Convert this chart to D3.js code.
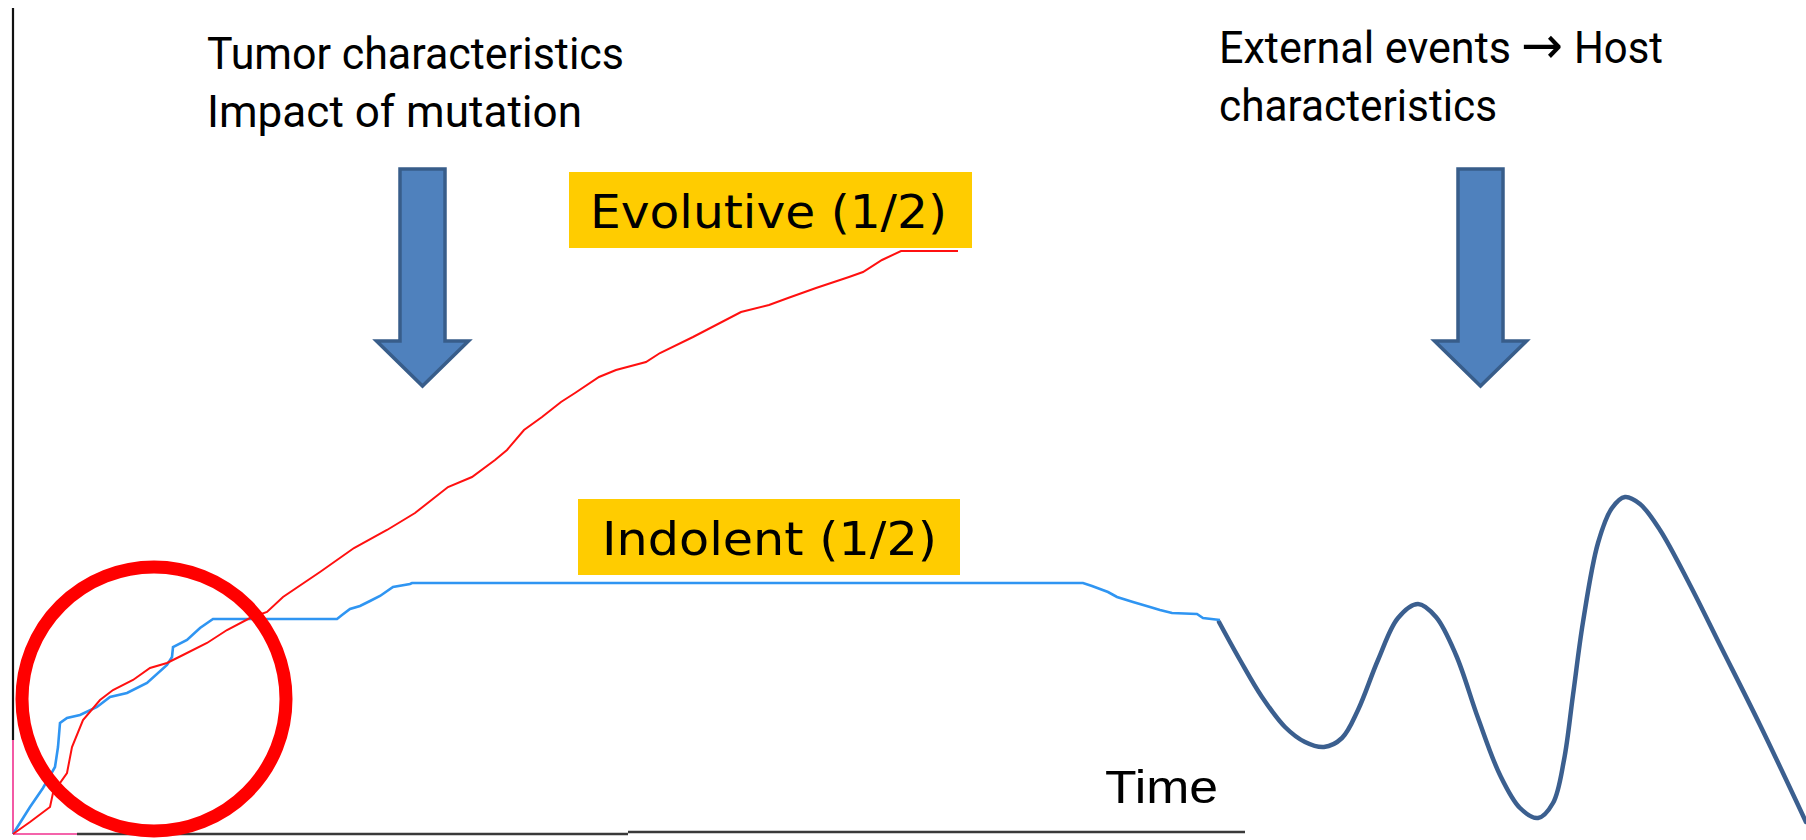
<!DOCTYPE html>
<html>
<head>
<meta charset="utf-8">
<script src="https://cdn.jsdelivr.net/npm/d3@7/dist/d3.min.js"></script>
<style>
  html, body { margin: 0; padding: 0; background: #fff; }
  svg { display: block; }
</style>
</head>
<body>
<div class="chart"></div>
<script>
// Evolutive course, [time, size]
var evolutive = [
  [0, 0], [1.7, 1.2], [3.7, 2.7], [4.0, 4.1], [5.4, 6.1], [5.9, 8.7], [7.0, 11.4],
  [8.7, 13.4], [10.0, 14.4], [12.0, 15.4], [13.7, 16.6], [15.4, 17.1], [17.0, 17.9],
  [19.4, 19.1], [21.4, 20.4], [23.7, 21.6], [25.4, 22.2], [27.0, 23.7], [30.7, 26.2],
  [34.1, 28.6], [37.4, 30.4], [40.2, 32.1], [43.5, 34.7], [45.9, 35.7], [48.2, 37.4],
  [49.4, 38.4], [51.1, 40.4], [52.9, 41.7], [54.8, 43.2], [56.2, 44.1], [58.6, 45.7],
  [60.3, 46.4], [63.3, 47.2], [64.7, 48.1], [68.0, 49.7], [72.8, 52.2], [75.6, 52.9],
  [77.5, 53.6], [80.3, 54.6], [83.6, 55.7], [85.0, 56.2], [86.9, 57.4], [88.8, 58.3],
  [94.5, 58.3]
];

// Indolent course
var indolent = [
  [0, 0], [1.7, 2.7], [3.0, 4.6], [4.2, 6.7], [4.5, 8.7], [4.7, 11.1], [5.4, 11.6],
  [6.7, 11.9], [8.4, 12.7], [9.7, 13.7], [11.4, 14.1], [13.4, 15.1], [15.4, 16.9],
  [15.9, 17.7], [16.0, 18.7], [17.4, 19.4], [18.7, 20.6], [20.0, 21.5], [32.4, 21.5],
  [32.9, 21.9], [33.7, 22.5], [34.7, 22.8], [35.7, 23.3], [36.7, 23.8], [38.0, 24.7],
  [39.7, 25.0], [39.9, 25.1], [107.0, 25.1], [107.9, 24.8], [109.5, 24.2], [110.4, 23.7],
  [112.0, 23.2], [113.7, 22.7], [114.7, 22.4], [115.9, 22.1], [118.4, 22.0], [119.0, 21.6],
  [120.7, 21.4]
];

// Host driven course after the indolent phase
var hostCourse = [
  [120.6, 21.2], [122.7, 17.4], [124.9, 13.7], [127.2, 10.7], [129.2, 9.2], [131.1, 8.7],
  [132.9, 9.6], [134.5, 12.4], [136.5, 17.4], [138.5, 21.6], [140.5, 23.0], [142.3, 21.7],
  [144.3, 17.9], [146.5, 11.6], [148.7, 5.9], [150.7, 2.6], [152.5, 1.6], [154.0, 3.1],
  [155.1, 7.4], [156.0, 13.9], [157.0, 21.2], [158.5, 29.1], [159.9, 32.6], [161.2, 33.7],
  [162.7, 33.0], [164.7, 30.4], [167.7, 24.9], [170.7, 18.9], [174.7, 10.9], [179.3, 1.2]
];

// Texts
var seriesLabels = ['Evolutive (1/2)', 'Indolent (1/2)'];
var tumorNotes = ['Tumor characteristics', 'Impact of mutation'];
var hostNotes = ['External events', '\u2192', 'Host', 'characteristics'];
var axisTitle = 'Time';

// Canvas
var width = 1806, height = 840;

var svg = d3.select('.chart').append('svg')
  .attr('width', width)
  .attr('height', height);

svg.append('rect')
  .attr('width', width)
  .attr('height', height)
  .attr('fill', '#fff');

// Scales
var x = d3.scaleLinear().domain([0, 180]).range([13, 1813]);
var y = d3.scaleLinear().domain([0, 82.6]).range([834, 8]);

// Axes (no ticks, plain lines)
var axes = svg.append('g').attr('class', 'axes');

axes.append('line')
  .attr('x1', x(0)).attr('x2', x(0))
  .attr('y1', y(82.6)).attr('y2', y(9.4))
  .attr('stroke', '#111').attr('stroke-width', 2.2);

axes.append('line')
  .attr('x1', x(0)).attr('x2', x(0))
  .attr('y1', y(9.4)).attr('y2', y(0))
  .attr('stroke', '#f0308f').attr('stroke-width', 1.6);

axes.append('line')
  .attr('x1', x(6.4)).attr('x2', x(61.5))
  .attr('y1', y(0)).attr('y2', y(0))
  .attr('stroke', '#3a3a3a').attr('stroke-width', 2.6);

axes.append('line')
  .attr('x1', x(61.5)).attr('x2', x(123.2))
  .attr('y1', y(0.2)).attr('y2', y(0.2))
  .attr('stroke', '#3a3a3a').attr('stroke-width', 2.6);

axes.append('line')
  .attr('x1', x(0)).attr('x2', x(6.4))
  .attr('y1', y(0)).attr('y2', y(0))
  .attr('stroke', '#f0308f').attr('stroke-width', 1.6);

// Line generators
var line = d3.line()
  .x(function(d) { return x(d[0]); })
  .y(function(d) { return y(d[1]); });

var smooth = d3.line()
  .x(function(d) { return x(d[0]); })
  .y(function(d) { return y(d[1]); })
  .curve(d3.curveCatmullRom.alpha(0.5));

// Series
svg.append('path')
  .datum(hostCourse)
  .attr('d', smooth)
  .attr('fill', 'none')
  .attr('stroke', '#3b5f8f')
  .attr('stroke-width', 4.5)
  .attr('stroke-linecap', 'round');

svg.append('path')
  .datum(indolent)
  .attr('d', line)
  .attr('fill', 'none')
  .attr('stroke', '#2f95f2')
  .attr('stroke-width', 2.6);

svg.append('path')
  .datum(evolutive)
  .attr('d', line)
  .attr('fill', 'none')
  .attr('stroke', '#ff1010')
  .attr('stroke-width', 2);

// Highlight circle on the early phase
svg.append('circle')
  .attr('cx', x(14.1))
  .attr('cy', y(13.5))
  .attr('r', 132)
  .attr('fill', 'none')
  .attr('stroke', '#ff0000')
  .attr('stroke-width', 13);

// Block arrows
function arrowPoints(cx, top, tip) {
  var shaft = 22.5, head = 46, headH = 45;
  return [
    [cx - shaft, top], [cx + shaft, top], [cx + shaft, tip - headH],
    [cx + head, tip - headH], [cx, tip], [cx - head, tip - headH],
    [cx - shaft, tip - headH]
  ].map(function(p) { return p.join(','); }).join(' ');
}

svg.selectAll('.arrow')
  .data([422.5, 1480.5])
  .enter().append('polygon')
  .attr('class', 'arrow')
  .attr('points', function(d) { return arrowPoints(d, 169, 386); })
  .attr('fill', '#4f81bd')
  .attr('stroke', '#385d8a')
  .attr('stroke-width', 3.5)
  .attr('stroke-linejoin', 'miter');

// Notes above the arrows
var noteFont = 'Roboto, "Open Sans", sans-serif';

svg.selectAll('.tumor-note')
  .data(tumorNotes)
  .enter().append('text')
  .attr('class', 'tumor-note')
  .attr('x', 207)
  .attr('y', function(d, i) { return 69 + i * 58; })
  .attr('textLength', function(d, i) { return [417, 375][i]; })
  .attr('lengthAdjust', 'spacingAndGlyphs')
  .style('font-family', noteFont)
  .style('font-size', '44px')
  .attr('fill', '#000')
  .text(function(d) { return d; });

// Host notes: the arrow glyph is set apart in a font that draws it large
var hostPlace = [
  { x: 1219, y: 63, len: 292, font: noteFont, size: 44 },
  { x: 1521, y: 63, len: 42, font: '"DejaVu Sans", sans-serif', size: 52 },
  { x: 1574, y: 63, len: 89, font: noteFont, size: 44 },
  { x: 1219, y: 121, len: 278, font: noteFont, size: 44 }
];

svg.selectAll('.host-note')
  .data(hostNotes)
  .enter().append('text')
  .attr('class', 'host-note')
  .attr('x', function(d, i) { return hostPlace[i].x; })
  .attr('y', function(d, i) { return hostPlace[i].y; })
  .attr('textLength', function(d, i) { return hostPlace[i].len; })
  .attr('lengthAdjust', 'spacingAndGlyphs')
  .style('font-family', function(d, i) { return hostPlace[i].font; })
  .style('font-size', function(d, i) { return hostPlace[i].size + 'px'; })
  .attr('fill', '#000')
  .text(function(d) { return d; });

// Series labels in yellow boxes
var boxes = [
  { x: 569, y: 172, w: 403, h: 76, tx: 590, ty: 228, tl: 357 },
  { x: 578, y: 499, w: 382, h: 76, tx: 602, ty: 555, tl: 335 }
];

var labels = svg.selectAll('.series-label')
  .data(seriesLabels)
  .enter().append('g')
  .attr('class', 'series-label');

labels.append('rect')
  .attr('x', function(d, i) { return boxes[i].x; })
  .attr('y', function(d, i) { return boxes[i].y; })
  .attr('width', function(d, i) { return boxes[i].w; })
  .attr('height', function(d, i) { return boxes[i].h; })
  .attr('fill', '#ffcc00');

labels.append('text')
  .attr('x', function(d, i) { return boxes[i].tx; })
  .attr('y', function(d, i) { return boxes[i].ty; })
  .attr('textLength', function(d, i) { return boxes[i].tl; })
  .attr('lengthAdjust', 'spacingAndGlyphs')
  .style('font-family', '"DejaVu Sans", sans-serif')
  .style('font-size', '47px')
  .attr('fill', '#000')
  .text(function(d) { return d; });

// Axis title
svg.append('text')
  .attr('x', 1105)
  .attr('y', 803)
  .attr('textLength', 113)
  .attr('lengthAdjust', 'spacingAndGlyphs')
  .style('font-family', '"Liberation Sans", Arial, sans-serif')
  .style('font-size', '46px')
  .attr('fill', '#000')
  .text(axisTitle);
</script>
</body>
</html>
